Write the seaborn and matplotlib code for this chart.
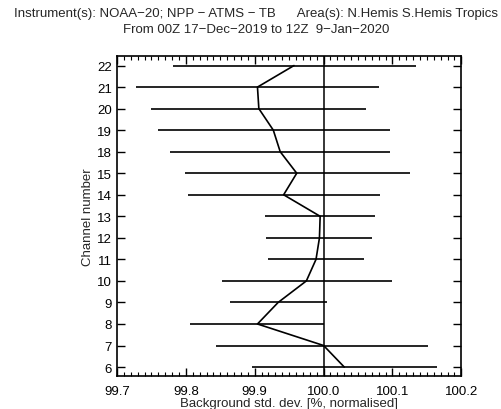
import numpy as np
import pandas as pd
import matplotlib
matplotlib.use("Agg")
import matplotlib.pyplot as plt
from matplotlib.ticker import MultipleLocator
import seaborn as sns

channels = [6, 7, 8, 9, 10, 11, 12, 13, 14, 15, 18, 19, 20, 21, 22]
centre = [100.030, 100.000, 99.904, 99.934, 99.975, 99.989, 99.994, 99.995,
          99.942, 99.961, 99.937, 99.927, 99.906, 99.904, 99.957]
low = [99.896, 99.844, 99.806, 99.864, 99.852, 99.920, 99.916, 99.915,
       99.803, 99.799, 99.777, 99.759, 99.749, 99.727, 99.782]
high = [100.164, 100.152, 100.000, 100.005, 100.100, 100.058, 100.071, 100.074,
        100.082, 100.125, 100.097, 100.096, 100.062, 100.080, 100.134]

sns.set_style("ticks")
plt.rcParams['font.family'] = ['Liberation Sans', 'DejaVu Sans']

df = pd.DataFrame({"channel": channels, "centre": centre, "low": low, "high": high})
df["pos"] = np.arange(len(df))

fig = plt.figure(figsize=(5.02, 4.10), dpi=100)
ax = fig.add_axes([0.233, 0.0813, 0.686, 0.780])

ax.hlines(df["pos"], df["low"], df["high"], color="black", lw=1.2)
sns.lineplot(data=df, x="centre", y="pos", sort=False, estimator=None,
             color="black", lw=1.2, ax=ax)
ax.axvline(100.0, color="black", lw=1.1)

ax.set_xlim(99.7, 100.2)
ax.set_ylim(-0.4, 14.45)
ax.xaxis.set_major_locator(MultipleLocator(0.1))
ax.xaxis.set_minor_locator(MultipleLocator(0.01))
ax.set_xticklabels([f"{v:.1f}" for v in ax.get_xticks()])
ax.set_yticks(df["pos"])
ax.set_yticklabels([str(c) for c in channels])

ax.tick_params(axis="both", which="both", direction="in", top=True, right=True,
               labelsize=9.5, color="black", labelcolor="black")
ax.tick_params(axis="x", which="major", length=6, width=1, pad=7)
ax.tick_params(axis="x", which="minor", length=3, width=0.8)
ax.tick_params(axis="y", which="major", length=6, width=1)
ax.tick_params(axis="y", which="minor", left=False, right=False)
for s in ax.spines.values():
    s.set_linewidth(1.2)
    s.set_color("black")

ax.set_xlabel("Background std. dev. [%, normalised]", fontsize=9.5, labelpad=0)
ax.set_ylabel("Channel number", fontsize=9.5, labelpad=2)

fig.text(0.51, 0.965, "Instrument(s): NOAA\u221220; NPP \u2212 ATMS \u2212 TB      Area(s): N.Hemis S.Hemis Tropics",
         ha="center", va="center", fontsize=9.5)
fig.text(0.51, 0.927, "From 00Z 17\u2212Dec\u22122019 to 12Z  9\u2212Jan\u22122020",
         ha="center", va="center", fontsize=9.5)

fig.savefig("out.png", dpi=100)
